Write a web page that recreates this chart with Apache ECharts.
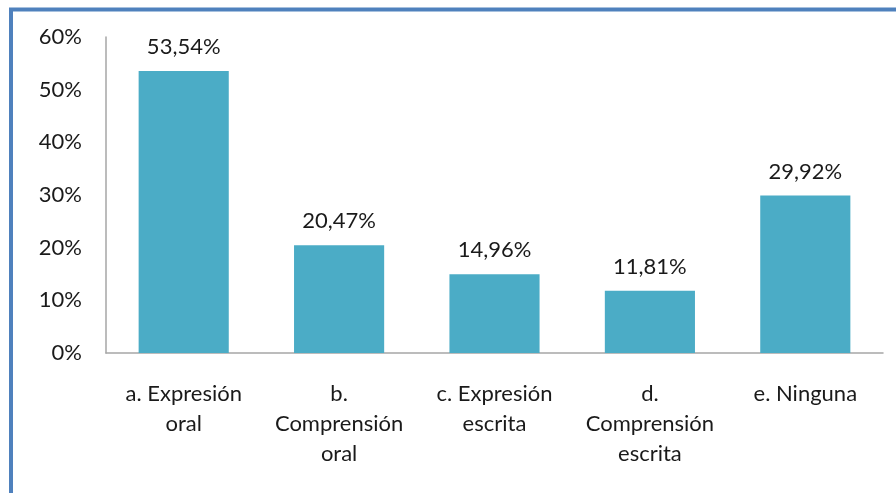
<!DOCTYPE html>
<html>
<head>
<meta charset="utf-8">
<script src="https://cdn.jsdelivr.net/npm/echarts@6/dist/echarts.min.js"></script>
<style>
  html, body { margin: 0; padding: 0; background: #ffffff; }
  #chart { width: 896px; height: 493px; }
</style>
</head>
<body>
<div id="chart"></div>
<script>
// Categories and percentage values
const categories = [
  'a. Expresión\noral',
  'b.\nComprensión\noral',
  'c. Expresión\nescrita',
  'd.\nComprensión\nescrita',
  'e. Ninguna'
];
const values = [53.54, 20.47, 14.96, 11.81, 29.92];
const yTicks = [0, 10, 20, 30, 40, 50, 60];

const font = 'Lato, "Open Sans", sans-serif';
const textColor = '#1a1a1a';
const axisColor = '#a6a6a6';
const fontSize = 22;

const chart = echarts.init(document.getElementById('chart'), null, { renderer: 'canvas' });

chart.setOption({
  backgroundColor: '#ffffff',
  animation: false,
  graphic: [{
    type: 'rect',
    shape: { x: 11, y: 9.5, width: 1200, height: 1200 },
    style: { fill: 'none', stroke: '#4F81BD', lineWidth: 4 },
    silent: true,
    z: 100
  }],
  grid: { left: 106, right: 13, top: 37, bottom: 140, containLabel: false },
  xAxis: {
    type: 'category',
    data: categories,
    axisLine: { show: true, lineStyle: { color: axisColor, width: 1.5 } },
    axisTick: { show: false },
    axisLabel: {
      interval: 0,
      margin: 26,
      color: textColor,
      fontFamily: font,
      fontSize: fontSize,
      lineHeight: 30,
      align: 'center'
    }
  },
  yAxis: {
    type: 'value',
    min: yTicks[0],
    max: yTicks[yTicks.length - 1],
    interval: 10,
    splitLine: { show: false },
    axisLine: { show: true, lineStyle: { color: axisColor, width: 1.5 } },
    axisTick: { show: false },
    axisLabel: {
      margin: 24,
      color: textColor,
      fontFamily: font,
      fontSize: fontSize,
      formatter: v => v + '%'
    }
  },
  series: [{
    type: 'bar',
    data: values,
    barWidth: '58%',
    itemStyle: { color: '#4BACC6' },
    label: {
      show: true,
      position: 'top',
      distance: 13,
      color: textColor,
      fontFamily: font,
      fontSize: fontSize,
      formatter: p => p.value.toFixed(2).replace('.', ',') + '%'
    }
  }]
});
</script>
</body>
</html>
